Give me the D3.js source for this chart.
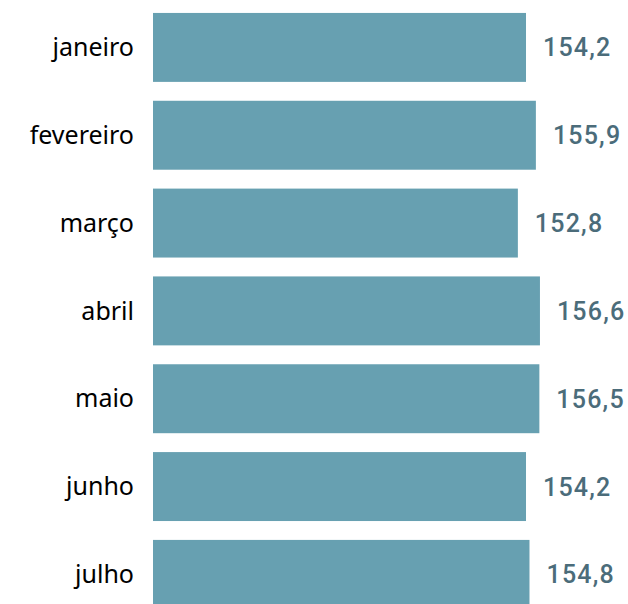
<!DOCTYPE html>
<html>
<head>
<meta charset="utf-8">
<script src="https://cdn.jsdelivr.net/npm/d3@7"></script>
<style>
	html, body { margin: 0; padding: 0; background: #fff; overflow: hidden; }
	svg { display: block; }
</style>
</head>
<body>
<svg id="chart" width="628" height="604"></svg>
<script>
"use strict";

var months = ["janeiro","fevereiro","março","abril","maio","junho","julho"];
var values = [154.2, 155.9, 152.8, 156.6, 156.5, 154.2, 154.8];

var barColor = "#67a0b1";
var labelColor = "#4b6c7a";

var svg = d3.select("#chart");

// x axis does not start at zero, bars are cut at ~90
var x = d3.scaleLinear()
	.domain([90, 160])
	.range([153, 559.7]);

var y = d3.scaleBand()
	.domain(months)
	.range([3.5, 618.3])
	.paddingInner(0.215)
	.paddingOuter(0.1075);

var fmt = function(v){ return d3.format(".1f")(v).replace(".", ","); };

var rows = svg.selectAll("g.row")
	.data(months)
	.enter().append("g")
	.attr("class", "row");

rows.append("rect")
	.attr("x", x(90))
	.attr("y", function(d){ return y(d); })
	.attr("width", function(d,i){ return x(values[i]) - x(90); })
	.attr("height", y.bandwidth())
	.attr("fill", barColor);

rows.append("text")
	.attr("x", x(90) - 19)
	.attr("y", function(d){ return y(d) + y.bandwidth()/2; })
	.attr("dy", "0.35em")
	.attr("text-anchor", "end")
	.style("font-family", "'Noto Sans', 'Open Sans', sans-serif")
	.style("font-size", "25px")
	.style("fill", "#000")
	.text(function(d){ return d; });

rows.append("text")
	.attr("x", function(d,i){ return x(values[i]) + 17; })
	.attr("y", function(d){ return y(d) + y.bandwidth()/2; })
	.attr("dy", "0.36em")
	.attr("text-anchor", "start")
	.style("font-family", "Roboto, 'DejaVu Sans Condensed', sans-serif")
	.style("font-size", "25px")
	.style("font-weight", "500")
	.style("letter-spacing", "1.2px")
	.style("fill", labelColor)
	.text(function(d,i){ return fmt(values[i]); });
</script>
</body>
</html>
